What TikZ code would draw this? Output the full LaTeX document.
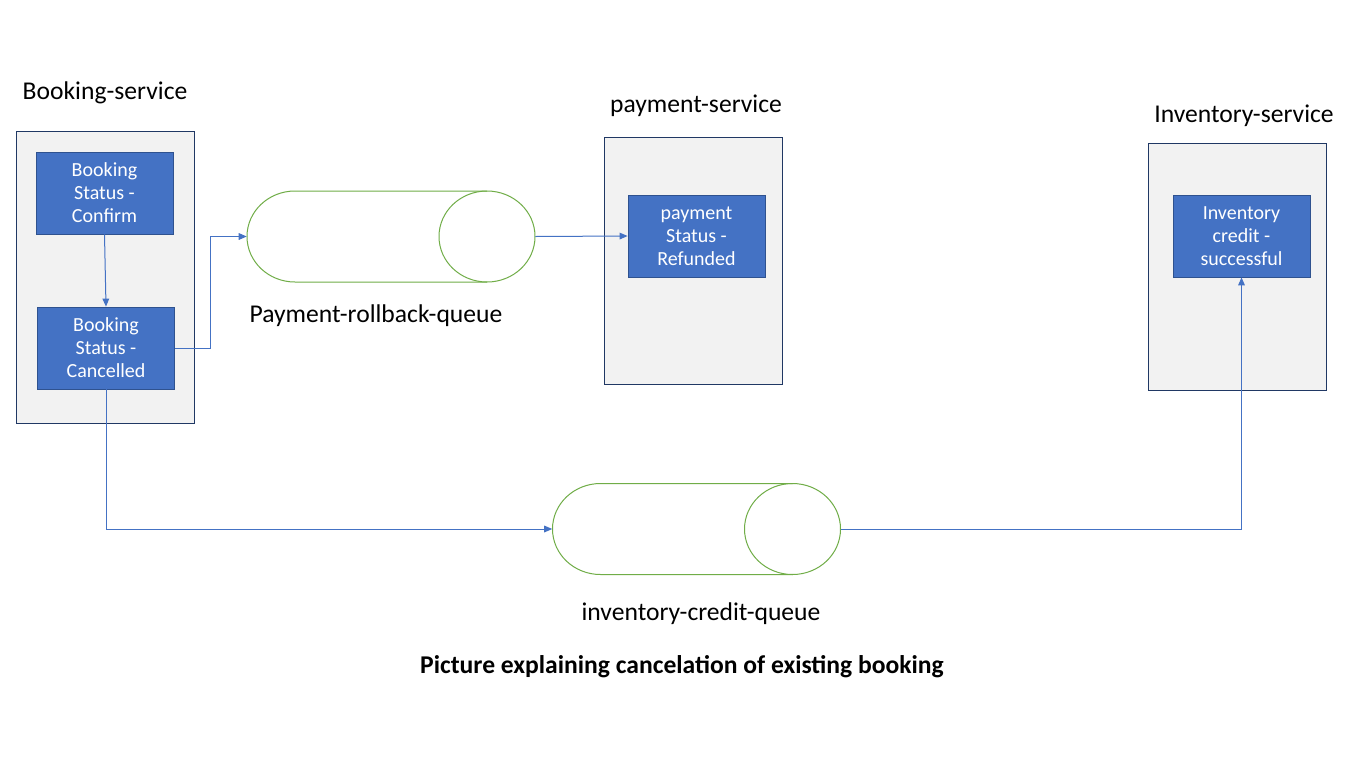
\documentclass[tikz,border=0pt]{standalone}
\usepackage{fontspec}
\setmainfont{Carlito}
\usetikzlibrary{arrows.meta}
\definecolor{boxblue}{HTML}{4472C4}
\definecolor{boxedge}{HTML}{2F528F}
\definecolor{outeredge}{HTML}{203864}
\definecolor{outerfill}{HTML}{F2F2F2}
\definecolor{qgreen}{HTML}{70AD47}
\tikzset{
  svc/.style={draw=outeredge, fill=outerfill, line width=0.6pt, minimum width=133.5pt, inner sep=0pt},
  state/.style={draw=boxedge, fill=boxblue, line width=0.6pt, text=white, minimum width=102.75pt, minimum height=61.5pt, inner sep=0pt, align=center, font=\fontsize{15}{17.25}\selectfont},
  queue/.style={draw=none, minimum width=216pt, minimum height=68.25pt, inner sep=0pt},
  qline/.style={draw=qgreen, line width=0.75pt},
  conn/.style={draw=boxblue, line width=0.75pt, -{Triangle[length=6pt,width=5pt]}},
  title/.style={font=\fontsize{19.2}{23}\selectfont, inner sep=0pt}
}
\begin{document}
\begin{tikzpicture}[x=0.75pt, y=-0.75pt]
\useasboundingbox[fill=white] (0,0) rectangle (1366,768);
% service containers
\node[svc, minimum height=219pt] (bsvc) at (105,277) {};
\node[svc, minimum height=185.25pt] (psvc) at (693,260.5) {};
\node[svc, minimum height=185.25pt] (isvc) at (1237,266.5) {};
% titles
\node[title] (bt) at (105,93) {Booking-service};
\node[title] (pt) at (696,106) {payment-service};
\node[title] (it) at (1244,116) {Inventory-service};
% state boxes
\node[state] (b1) at (104.5,193) {Booking\\Status -\\Confirm};
\node[state] (b2) at (106,348) {Booking\\Status -\\Cancelled};
\node[state] (p1) at (696.5,236) {payment\\Status -\\Refunded};
\node[state] (i1) at (1241.5,236) {Inventory\\credit -\\successful};
% queues
\node[queue] (q1) at (391,236.5) {};
\draw[qline] (295,191) -- (487,191) (295,191) arc[start angle=90, end angle=270, x radius=36pt, y radius=34.125pt] -- (487,282);
\draw[qline] (487,236.5) ellipse[x radius=36pt, y radius=34.125pt];
\node[queue] (q2) at (696.5,529) {};
\draw[qline] (600.5,483.5) -- (792.5,483.5) (600.5,483.5) arc[start angle=90, end angle=270, x radius=36pt, y radius=34.125pt] -- (792.5,574.5);
\draw[qline] (792.5,529) ellipse[x radius=36pt, y radius=34.125pt];
\node[title] (q1l) at (376,316) {Payment-rollback-queue};
\node[title] (q2l) at (701,614) {inventory-credit-queue};
% caption
\node[font=\fontsize{19.2}{23}\selectfont\bfseries, inner sep=0pt] (cap) at (682,667) {Picture explaining cancelation of existing booking};
% connectors
\draw[conn] (b1.south) -- (b2.north);
\draw[conn] (b2.east) -- (210,348) |- (q1.west);
\draw[conn] (q1.east) -- (p1.west);
\draw[conn] (b2.south) |- (q2.west);
\draw[conn] (q2.east) -| (i1.south);
\end{tikzpicture}
\end{document}
